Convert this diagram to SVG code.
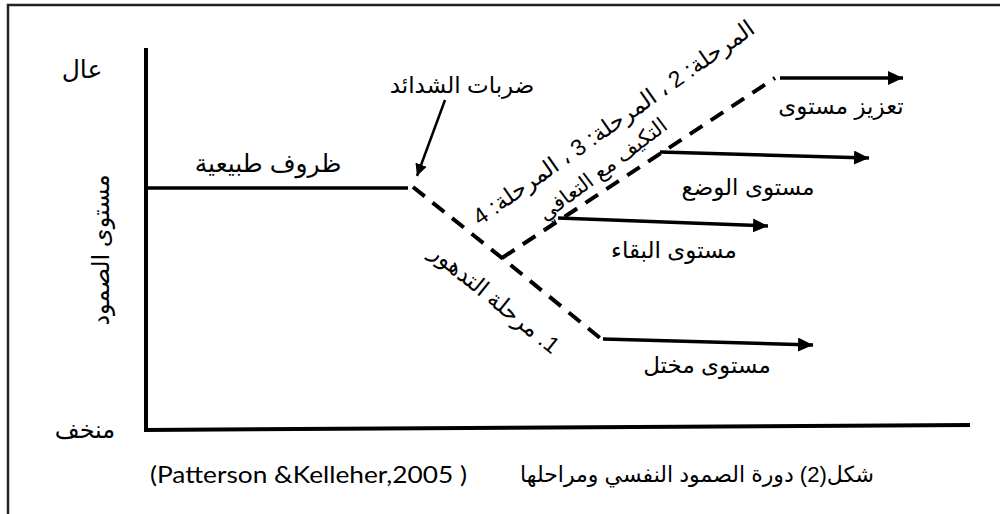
<svg xmlns="http://www.w3.org/2000/svg" width="1000" height="514" viewBox="0 0 1000 514">
<defs>
<style>
.t{font-family:"Liberation Sans","DejaVu Sans",sans-serif;font-size:23px;fill:#000}
.ax{stroke:#000;stroke-width:4;fill:none}
.sol{stroke:#000;stroke-width:3.5;fill:none}
.dash{stroke:#000;stroke-width:4;fill:none;stroke-dasharray:15 10}
</style>
<marker id="ah" markerUnits="userSpaceOnUse" markerWidth="16" markerHeight="14" refX="15" refY="7" orient="auto"><path d="M0,0 L15,7 L0,14 Z" fill="#000"/></marker>
<marker id="ahs" markerUnits="userSpaceOnUse" markerWidth="13" markerHeight="12" refX="12" refY="6" orient="auto"><path d="M0,0 L12,6 L0,12 Z" fill="#000"/></marker>
</defs>
<rect width="1000" height="514" fill="#fff"/>
<g id="frame"><path d="M8,514 L8,5 L1000,5" stroke="#222" stroke-width="2.5" fill="none"/></g>
<g id="axes">
<line class="ax" x1="146" y1="48" x2="146" y2="430"/>
<line class="ax" x1="144" y1="430" x2="970" y2="425"/>
<text class="t" x="82" y="78" text-anchor="middle" style="font-size:25px">عال</text>
<text class="t" x="85" y="438" text-anchor="middle" style="font-size:24px">منخف</text>
<text class="t" transform="translate(109,250) rotate(-90)" text-anchor="middle" style="font-size:24px">مستوى الصمود</text>
</g>
<g id="connectors">
<line class="sol" x1="146" y1="188" x2="408" y2="188"/>
<path class="dash" d="M413,187 L502,258 L600,338"/>
<path class="dash" d="M502,258 L775,78"/>
<line class="sol" x1="780" y1="78" x2="903" y2="78" marker-end="url(#ah)"/>
<line class="sol" x1="660" y1="152" x2="869" y2="158" marker-end="url(#ah)"/>
<line class="sol" x1="558" y1="218" x2="768" y2="226" marker-end="url(#ah)"/>
<line class="sol" x1="603" y1="339" x2="813" y2="345" marker-end="url(#ah)"/>
<line stroke="#000" stroke-width="2.5" x1="445" y1="100" x2="417" y2="176" marker-end="url(#ahs)"/>
</g>
<g id="normal"><text class="t" x="268" y="172" text-anchor="middle" style="font-size:25px">ظروف طبيعية</text></g>
<g id="adversity"><text class="t" x="462" y="93" text-anchor="middle">ضربات الشدائد</text></g>
<g id="stages"><text class="t" direction="rtl" transform="translate(618,129) rotate(-35)" text-anchor="middle">المرحلة: 2 ، المرحلة: 3 ، المرحلة: 4</text></g>
<g id="adapt"><text class="t" direction="rtl" transform="translate(607,175) rotate(-37)" text-anchor="middle" style="font-size:21px">التكيف مع التعافي</text></g>
<g id="decline"><text class="t" direction="rtl" transform="translate(490,305) rotate(39)" text-anchor="middle">1. مرحلة التدهور</text></g>
<g id="enhance"><text class="t" x="841" y="114" text-anchor="middle">تعزيز مستوى</text></g>
<g id="status"><text class="t" x="748" y="195" text-anchor="middle">مستوى الوضع</text></g>
<g id="survival"><text class="t" x="674" y="258" text-anchor="middle">مستوى البقاء</text></g>
<g id="dysfunction"><text class="t" x="707" y="373" text-anchor="middle">مستوى مختل</text></g>
<g id="caption">
<text class="t" x="874" y="482" text-anchor="end" style="font-size:22px">شكل(2) دورة الصمود النفسي ومراحلها</text>
<text class="t" x="150" y="483" style="font-family:Lato,'Liberation Sans',sans-serif;font-size:23px" textLength="317" lengthAdjust="spacingAndGlyphs">(Patterson &amp;Kelleher,2005 )</text>
</g>
</svg>
